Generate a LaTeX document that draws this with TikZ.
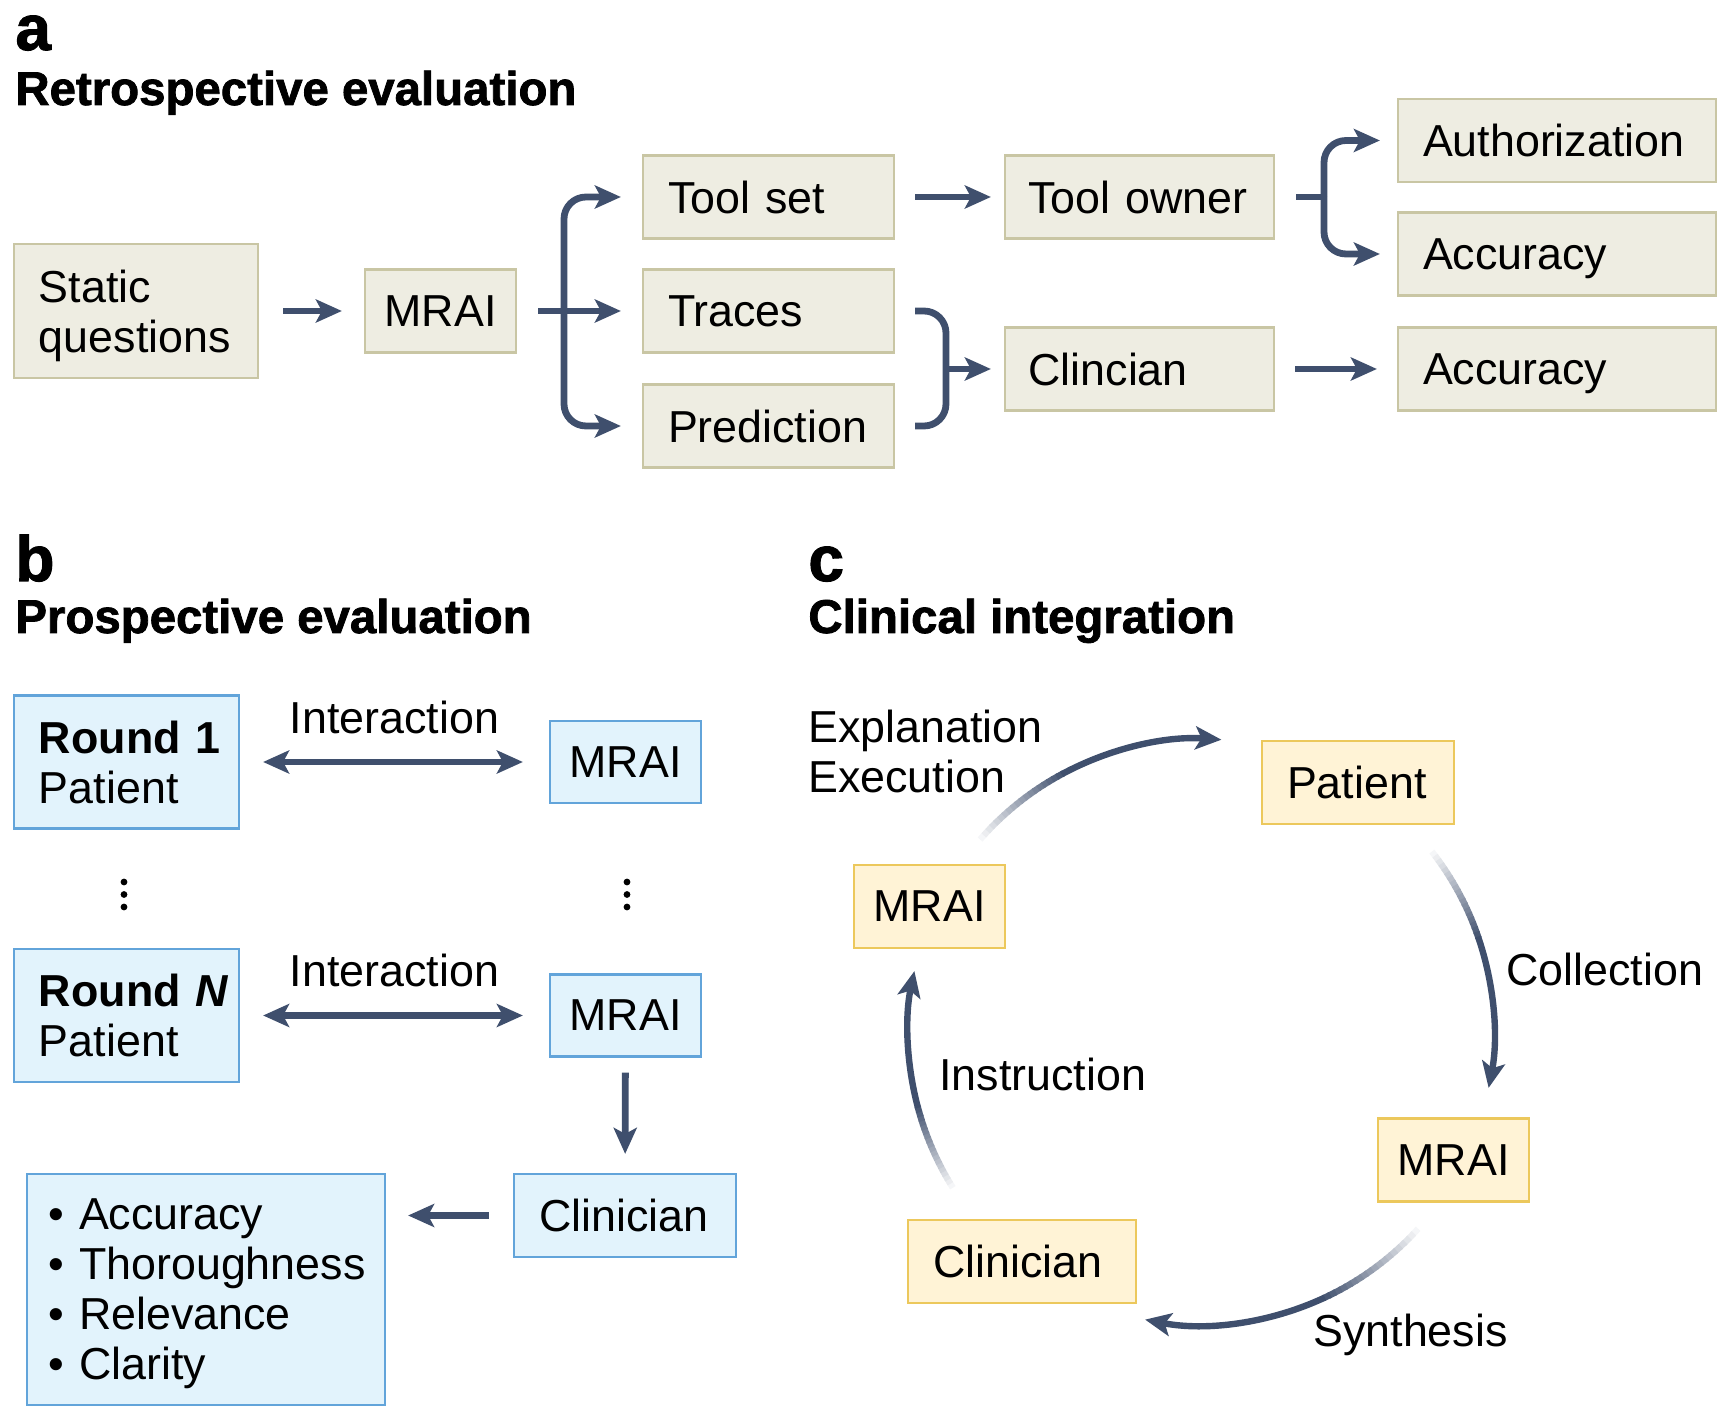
\documentclass[tikz,border=0pt]{standalone}
\usepackage{fontspec}
\setmainfont{Liberation Sans}
\usetikzlibrary{arrows.meta,calc}
\definecolor{navy}{HTML}{3F4F6D}
\definecolor{retrofill}{HTML}{EEEDE2}\definecolor{retroedge}{HTML}{C9C6A4}
\definecolor{prospfill}{HTML}{E2F3FC}\definecolor{prospedge}{HTML}{62A4DA}
\definecolor{clinfill}{HTML}{FFF3D6}\definecolor{clinedge}{HTML}{ECC85C}
\tikzset{>={Stealth[length=13pt,width=11.5pt,inset=3pt]},every node/.style={font=\fontsize{22.4}{25}\selectfont},
flow/.style={draw=navy,line width=3.4pt,->},wire/.style={draw=navy,line width=3.4pt},
box/.style={line width=1.1pt,inner xsep=12.5pt,inner ysep=0pt,minimum height=41.5pt,text depth=0pt,align=left},
retro/.style={box,draw=retroedge,fill=retrofill},prosp/.style={box,draw=prospedge,fill=prospfill},clin/.style={box,draw=clinedge,fill=clinfill},
mrai/.style={text width=56pt,inner xsep=9.75pt},lab/.style={inner sep=0pt},
head/.style={anchor=base west,inner sep=0pt,font=\fontsize{23.7}{28}\selectfont\bfseries\addfontfeature{FakeBold=1.6}},
tag/.style={anchor=base west,inner sep=0pt,font=\fontsize{32}{36}\selectfont\bfseries\addfontfeature{FakeBold=1.6}},
cyc/.style={line width=3.2pt}}
\newcommand{\fadearc}[2]{%
\foreach \k in {0,...,19}{\pgfmathsetmacro\pa{(#1)+((#2)-(#1))*\k/50}\pgfmathsetmacro\pb{(#1)+((#2)-(#1))*(\k+1.3)/50}\pgfmathsetmacro\pc{5*\k}
\draw[cyc,draw=navy!\pc!white] ($(hub)+(\pa:146.5pt)$) arc[start angle=\pa,end angle=\pb,radius=146.5pt];}
\pgfmathsetmacro\pm{(#1)+((#2)-(#1))*0.4}
\draw[cyc,draw=navy,->] ($(hub)+(\pm:146.5pt)$) arc[start angle=\pm,end angle=#2,radius=146.5pt];}
\begin{document}
\begin{tikzpicture}[x=.5pt,y=.5pt]
\useasboundingbox (0,0) rectangle (1736,1426);
\node[tag] at (15,1376){a};\node[head] at (15,1321){Retrospective evaluation};
\node[retro,text width=97pt,minimum height=67pt,text depth=25pt] (static) at (136,1115){Static\\questions};
\node[retro,mrai] (mraiA) at (440.5,1115){MRAI};
\node[retro,text width=100.5pt] (toolset) at (768.5,1229){Tool set};
\node[retro,text width=100.5pt] (traces) at (768.5,1115){Traces};
\node[retro,text width=100.5pt] (prediction) at (768.5,1000){Prediction};
\node[retro,text width=111pt,inner xsep=11.75pt] (toolowner) at (1139.5,1229){Tool owner};
\node[retro,text width=111pt,inner xsep=11.75pt] (clincian) at (1139.5,1057){Clincian};
\node[retro,text width=134pt] (auth) at (1557,1285.5){Authorization};
\node[retro,text width=134pt] (accA) at (1557,1172){Accuracy};
\node[retro,text width=134pt] (accB) at (1557,1057){Accuracy};
\coordinate (splitA) at (564,1115);\coordinate (joinA) at (946,1057);\coordinate (splitB) at (1324,1229);
\draw[flow,shorten <=12pt,shorten >=11pt] (static)--(mraiA);
\draw[flow,shorten <=10.5pt,shorten >=10.5pt] (mraiA)--(traces);
\draw[flow,rounded corners=11pt] (splitA)|-([xshift=-10.5pt]toolset.west);\draw[flow,rounded corners=11pt] (splitA)|-([xshift=-10.5pt]prediction.west);
\draw[flow,shorten <=10pt,shorten >=6.5pt] (toolset)--(toolowner);
\draw[wire,rounded corners=11pt] ([xshift=10pt]traces.east)-|(joinA)|-([xshift=10pt]prediction.east);
\draw[flow,shorten >=6.5pt] (joinA)--(joinA-|clincian.west);
\draw[wire] ([xshift=10.5pt]toolowner.east)--(splitB);
\draw[flow,rounded corners=11pt] (splitB)|-([xshift=-8.5pt]auth.west);\draw[flow,rounded corners=11pt] (splitB)|-([xshift=-8.5pt]accA.west);
\draw[flow,shorten <=10pt,shorten >=10pt] (clincian)--(accB);
\node[tag] at (15,845){b};\node[head] at (15,793){Prospective evaluation};
\node[prosp,text width=87.5pt,minimum height=66.5pt,text depth=25pt] (round1) at (126.5,664){\mbox{\textbf{Round 1}}\\Patient};
\node[prosp,mrai,minimum height=41pt] (mraiB1) at (625.5,664){MRAI};
\node[prosp,text width=87.5pt,minimum height=66.5pt,text depth=25pt] (roundN) at (126.5,410.5){\mbox{\textbf{Round \textit{N}}}\\Patient};
\node[prosp,mrai,minimum height=41pt] (mraiB2) at (625.5,410.5){MRAI};
\node[prosp,text width=86pt] (clinB) at (625,210.5){Clinician};
\node[prosp,text width=157.5pt,inner xsep=10.75pt,minimum height=115.5pt,text depth=75pt] (metrics) at (206,136.5){\mbox{• Accuracy}\\\mbox{• Thoroughness}\\\mbox{• Relevance}\\\mbox{• Clarity}};
\draw[flow,<->,shorten <=11.5pt,shorten >=13pt] (round1)--node[midway,yshift=22.5pt]{Interaction}(mraiB1);
\draw[flow,<->,shorten <=11.5pt,shorten >=13pt] (roundN)--node[midway,yshift=22.5pt]{Interaction}(mraiB2);
\foreach \x in {124,627}{\foreach \y in {544,531.5,519}{\fill (\x,\y) circle(1.7pt);}}
\draw[flow,shorten <=7.5pt,shorten >=9.5pt] (mraiB2)--(clinB);
\draw[flow,shorten <=12pt,shorten >=11pt] (clinB.west)--(clinB.west-|metrics.east);
\node[tag] at (808,845){c};\node[head] at (808,793){Clinical integration};
\node[clin,text width=71pt] (patient) at (1358,643.5){Patient};
\node[clin,mrai] (mraiCL) at (929.5,519.5){MRAI};
\node[clin,mrai] (mraiCR) at (1453.5,266){MRAI};
\node[clin,text width=89pt] (clinC) at (1022,164.5){Clinician};
\node[lab,anchor=west,align=left] at (808,675){Explanation\\Execution};
\node[lab,anchor=west] at (1506,457){Collection};
\node[lab,anchor=west] at (939,352){Instruction};
\node[lab,anchor=west] at (1313,91){Synthesis};
\coordinate (hub) at (1201,394);
\fadearc{140}{86}\fadearc{39}{-11}\fadearc{-41}{-101}\fadearc{213}{168}
\end{tikzpicture}
\end{document}
